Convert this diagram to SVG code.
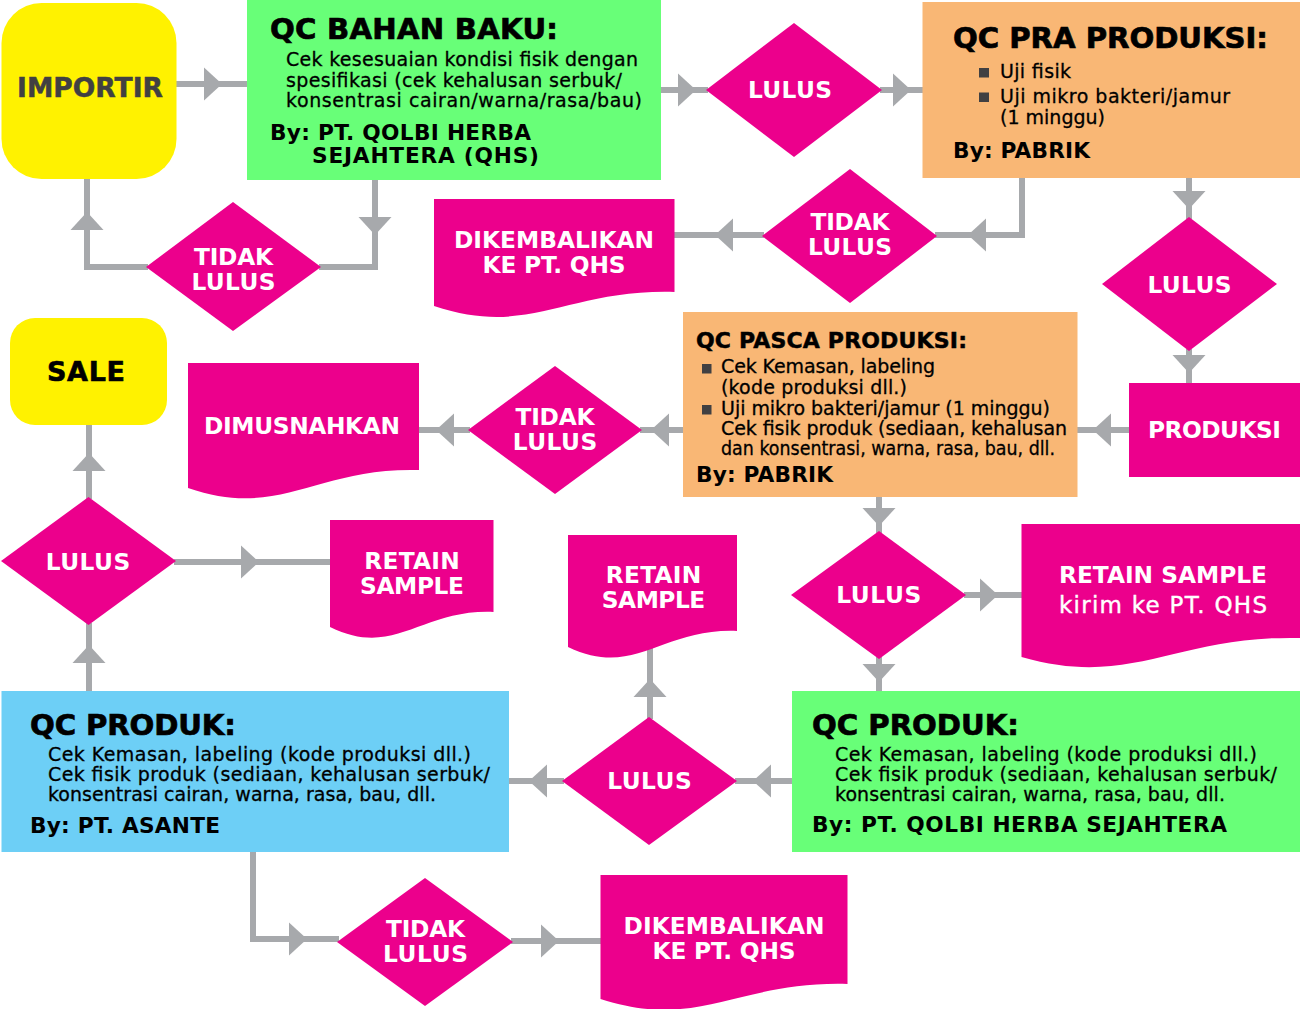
<svg xmlns="http://www.w3.org/2000/svg" width="1300" height="1009" viewBox="0 0 1300 1009">
<style>
text{font-family:"DejaVu Sans","Liberation Sans",sans-serif}
.conn{stroke:#a7a9ac;stroke-width:6;fill:none}
.ah{fill:#a7a9ac}
.mag{fill:#ec008c}
.yel{fill:#fff200}
.grn{fill:#68ff78}
.org{fill:#f9b775}
.blu{fill:#6dcff6}
.wt{fill:#fff;font-weight:bold;font-size:23.3px;text-anchor:middle}
.ttl{fill:#000;font-weight:bold;font-size:29.2px;stroke:#000;stroke-width:0.7px}
.ttl2{fill:#000;font-weight:bold;font-size:22px;stroke:#000;stroke-width:0.5px}
.by{fill:#000;font-weight:bold;font-size:21.7px}
.bd{fill:#000;font-size:19px;stroke:#000;stroke-width:0.3px}
.bul{fill:#414042}
</style>
<defs>
<path id="ah" d="M0,-16.5 L18,0 L0,16.5 Z"/>
</defs>
<rect width="1300" height="1009" fill="#fff"/>
<g id="connectors">
<polyline class="conn" points="176,84 250,84"/>
<polyline class="conn" points="658,90 708,90"/>
<polyline class="conn" points="880,90 925,90"/>
<polyline class="conn" points="1022,176 1022,235 935,235"/>
<polyline class="conn" points="764,235 672,235"/>
<polyline class="conn" points="1189,176 1189,219"/>
<polyline class="conn" points="1189,349 1189,385"/>
<polyline class="conn" points="1131,430 1075,430"/>
<polyline class="conn" points="686,430 640,430"/>
<polyline class="conn" points="470,430 417,430"/>
<polyline class="conn" points="879,495 879,533"/>
<polyline class="conn" points="964,595 1024,595"/>
<polyline class="conn" points="879,657 879,693"/>
<polyline class="conn" points="795,781 735,781"/>
<polyline class="conn" points="650,719 650,645"/>
<polyline class="conn" points="564,781 506,781"/>
<polyline class="conn" points="89,694 89,623"/>
<polyline class="conn" points="89,499 89,422"/>
<polyline class="conn" points="174,562 333,562"/>
<polyline class="conn" points="253,850 253,939 339,939"/>
<polyline class="conn" points="511,941 603,941"/>
<polyline class="conn" points="375,178 375,267 319,267"/>
<polyline class="conn" points="148,267 87,267 87,177"/>
<use href="#ah" class="ah" transform="translate(204,84)"/>
<use href="#ah" class="ah" transform="translate(678,90)"/>
<use href="#ah" class="ah" transform="translate(893,90)"/>
<use href="#ah" class="ah" transform="translate(986,235) rotate(180)"/>
<use href="#ah" class="ah" transform="translate(733,235) rotate(180)"/>
<use href="#ah" class="ah" transform="translate(1189,191) rotate(90)"/>
<use href="#ah" class="ah" transform="translate(1189,355) rotate(90)"/>
<use href="#ah" class="ah" transform="translate(1111,430) rotate(180)"/>
<use href="#ah" class="ah" transform="translate(669,430) rotate(180)"/>
<use href="#ah" class="ah" transform="translate(454,430) rotate(180)"/>
<use href="#ah" class="ah" transform="translate(879,508) rotate(90)"/>
<use href="#ah" class="ah" transform="translate(980,595)"/>
<use href="#ah" class="ah" transform="translate(879,664) rotate(90)"/>
<use href="#ah" class="ah" transform="translate(771,781) rotate(180)"/>
<use href="#ah" class="ah" transform="translate(650,697) rotate(-90)"/>
<use href="#ah" class="ah" transform="translate(547,781) rotate(180)"/>
<use href="#ah" class="ah" transform="translate(89,663) rotate(-90)"/>
<use href="#ah" class="ah" transform="translate(89,471) rotate(-90)"/>
<use href="#ah" class="ah" transform="translate(241,562)"/>
<use href="#ah" class="ah" transform="translate(289,939)"/>
<use href="#ah" class="ah" transform="translate(541,941)"/>
<use href="#ah" class="ah" transform="translate(375,217) rotate(90)"/>
<use href="#ah" class="ah" transform="translate(87,230) rotate(-90)"/>
</g>
<g id="importir">
<rect class="yel" x="1.5" y="3" width="175" height="176" rx="40"/>
<text x="90" y="97" text-anchor="middle" font-weight="bold" font-size="26.5" fill="#414042" stroke="#414042" stroke-width="0.5" textLength="146">IMPORTIR</text>
</g>
<g id="qc-bahan-baku">
<rect class="grn" x="247" y="0" width="414" height="180"/>
<text class="ttl" x="270" y="39" textLength="288">QC BAHAN BAKU:</text>
<text class="bd"><tspan x="286" y="66" textLength="352">Cek kesesuaian kondisi fisik dengan</tspan><tspan x="286" y="86.5" textLength="336">spesifikasi (cek kehalusan serbuk/</tspan><tspan x="286" y="107" textLength="356">konsentrasi cairan/warna/rasa/bau)</tspan></text>
<text class="by"><tspan x="270" y="140" textLength="261">By: PT. QOLBI HERBA</tspan><tspan x="312" y="163" textLength="227">SEJAHTERA (QHS)</tspan></text>
</g>
<g id="tidak-lulus-1">
<polygon class="mag" points="146,267 233,202 321,267 233,331"/>
<text class="wt"><tspan x="233.5" y="265" textLength="79">TIDAK</tspan><tspan x="233.5" y="290" textLength="84">LULUS</tspan></text>
</g>
<g id="lulus-1">
<polygon class="mag" points="706,90 794,23 882,90 794,157"/>
<text class="wt" x="790" y="98" textLength="84">LULUS</text>
</g>
<g id="qc-pra-produksi">
<rect class="org" x="922.5" y="2" width="377.5" height="176"/>
<text class="ttl" x="953" y="48" textLength="315">QC PRA PRODUKSI:</text>
<rect class="bul" x="979" y="68" width="10" height="9.5"/>
<rect class="bul" x="979" y="92.5" width="10" height="9.5"/>
<text class="bd"><tspan x="1000" y="78" textLength="71">Uji fisik</tspan><tspan x="1000" y="103" textLength="230">Uji mikro bakteri/jamur</tspan><tspan x="1000" y="123.5" textLength="105">(1 minggu)</tspan></text>
<text class="by" x="953" y="158" textLength="137">By: PABRIK</text>
</g>
<g id="tidak-lulus-2">
<polygon class="mag" points="762,236 850,169 937,236 850,303"/>
<text class="wt"><tspan x="850" y="230" textLength="79">TIDAK</tspan><tspan x="850" y="255" textLength="84">LULUS</tspan></text>
</g>
<g id="dikembalikan-1">
<path class="mag" d="M434,199 H674.5 V292 C566.3,289 530.2,338 434,306 Z"/>
<text class="wt"><tspan x="554" y="247.5" textLength="200">DIKEMBALIKAN</tspan><tspan x="554" y="272.5" textLength="143">KE PT. QHS</tspan></text>
</g>
<g id="lulus-2">
<polygon class="mag" points="1102,284 1189,217 1277,284 1189,351"/>
<text class="wt" x="1189.5" y="293" textLength="84">LULUS</text>
</g>
<g id="produksi">
<rect class="mag" x="1129" y="383" width="171" height="94"/>
<text class="wt" x="1214.5" y="437.5" textLength="133">PRODUKSI</text>
</g>
<g id="qc-pasca-produksi">
<rect class="org" x="683" y="312" width="394.5" height="185"/>
<text class="ttl2" x="696" y="348" textLength="271">QC PASCA PRODUKSI:</text>
<rect class="bul" x="702" y="364" width="9.5" height="9.5"/>
<rect class="bul" x="702" y="405" width="9.5" height="9.5"/>
<text class="bd" font-size="18.5"><tspan x="721" y="373" textLength="214">Cek Kemasan, labeling</tspan><tspan x="721" y="394" textLength="186">(kode produksi dll.)</tspan><tspan x="721" y="415" textLength="329">Uji mikro bakteri/jamur (1 minggu)</tspan><tspan x="721" y="435" textLength="346">Cek fisik produk (sediaan, kehalusan</tspan><tspan x="721" y="455" textLength="334" lengthAdjust="spacingAndGlyphs">dan konsentrasi, warna, rasa, bau, dll.</tspan></text>
<text class="by" x="696" y="482" textLength="137">By: PABRIK</text>
</g>
<g id="tidak-lulus-3">
<polygon class="mag" points="468,430 555,366 642,430 555,494"/>
<text class="wt"><tspan x="555" y="425" textLength="79">TIDAK</tspan><tspan x="555" y="450" textLength="84.5">LULUS</tspan></text>
</g>
<g id="dimusnahkan">
<path class="mag" d="M188,363 H419 V470 C315,467 280.4,520 188,488 Z"/>
<text class="wt" x="302" y="434" textLength="196">DIMUSNAHKAN</text>
</g>
<g id="sale">
<rect class="yel" x="10" y="318" width="157" height="107" rx="25"/>
<text x="86" y="381" text-anchor="middle" font-weight="bold" font-size="27" fill="#000" stroke="#000" stroke-width="0.6" textLength="78">SALE</text>
</g>
<g id="lulus-5">
<polygon class="mag" points="1,561 88.5,497 176,561 88.5,625"/>
<text class="wt" x="88" y="570" textLength="84.5">LULUS</text>
</g>
<g id="retain-sample-1">
<path class="mag" d="M330,520 H493.5 V612 C419.9,609 395.4,659 330,627 Z"/>
<text class="wt"><tspan x="412" y="569" textLength="95.6">RETAIN</tspan><tspan x="412" y="594" textLength="104">SAMPLE</tspan></text>
</g>
<g id="retain-sample-2">
<path class="mag" d="M568,535 H737 V631 C661,628 635.6,679 568,647 Z"/>
<text class="wt"><tspan x="653.5" y="582.5" textLength="95.7">RETAIN</tspan><tspan x="653.5" y="607.5" textLength="103.3">SAMPLE</tspan></text>
</g>
<g id="lulus-3">
<polygon class="mag" points="791,595 879,531 966,595 879,659"/>
<text class="wt" x="878.7" y="603" textLength="85">LULUS</text>
</g>
<g id="retain-sample-3">
<path class="mag" d="M1021.5,524 H1300 V638 C1174.7,635 1132.9,689 1021.5,657 Z"/>
<text class="wt"><tspan x="1163" y="582.5" textLength="208">RETAIN SAMPLE</tspan><tspan x="1163" y="613" font-weight="normal" font-size="23" stroke="#fff" stroke-width="0.4" textLength="208">kirim ke PT. QHS</tspan></text>
</g>
<g id="lulus-4">
<polygon class="mag" points="562,781 649,717 737,781 649,845"/>
<text class="wt" x="649.5" y="788.5" textLength="84.4">LULUS</text>
</g>
<g id="qc-produk-qhs">
<rect class="grn" x="792" y="691" width="508" height="161"/>
<text class="ttl" x="812" y="735" textLength="207">QC PRODUK:</text>
<text class="bd"><tspan x="835" y="760.7" textLength="422">Cek Kemasan, labeling (kode produksi dll.)</tspan><tspan x="835" y="780.7" textLength="442">Cek fisik produk (sediaan, kehalusan serbuk/</tspan><tspan x="835" y="800.7" textLength="390">konsentrasi cairan, warna, rasa, bau, dll.</tspan></text>
<text class="by" x="812" y="832" textLength="415">By: PT. QOLBI HERBA SEJAHTERA</text>
</g>
<g id="qc-produk-asante">
<rect class="blu" x="1.5" y="691" width="507.5" height="161"/>
<text class="ttl" x="30" y="735" textLength="206">QC PRODUK:</text>
<text class="bd"><tspan x="48" y="760.7" textLength="423">Cek Kemasan, labeling (kode produksi dll.)</tspan><tspan x="48" y="780.7" textLength="442">Cek fisik produk (sediaan, kehalusan serbuk/</tspan><tspan x="48" y="800.7" textLength="388">konsentrasi cairan, warna, rasa, bau, dll.</tspan></text>
<text class="by" x="30" y="833" textLength="190">By: PT. ASANTE</text>
</g>
<g id="tidak-lulus-4">
<polygon class="mag" points="337,942 425,878 513,942 425,1006"/>
<text class="wt"><tspan x="425.5" y="937" textLength="79">TIDAK</tspan><tspan x="425.5" y="962" textLength="85">LULUS</tspan></text>
</g>
<g id="dikembalikan-2">
<path class="mag" d="M600.5,875 H847.5 V984 C736.4,981 699.3,1031 600.5,999 Z"/>
<text class="wt"><tspan x="724" y="933.5" textLength="201">DIKEMBALIKAN</tspan><tspan x="724" y="958.5" textLength="143">KE PT. QHS</tspan></text>
</g>
</svg>
